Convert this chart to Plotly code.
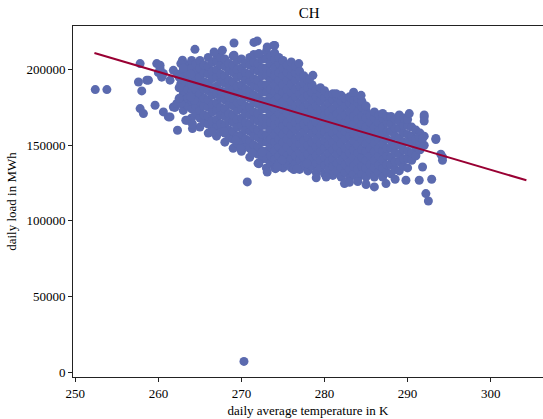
import plotly.graph_objects as go

# ---- data ----
# sparse / outlying points (temperature in K, load in MWh)
edge_temps = [252.4, 253.8, 257.8, 257.6, 258.0, 258.6, 258.8, 257.8, 258.2, 259.6,
              260.6, 261.2, 261.4, 261.8, 262.0, 262.2, 262.7, 262.3, 263.3, 263.5,
              264.1, 264.1, 264.3, 263.9, 259.8, 260.2, 260.4, 260.0, 260.6, 260.2,
              262.9, 261.8, 261.4, 262.3, 262.7, 262.7, 263.9, 264.4, 266.7, 267.7,
              269.1, 271.9, 271.5, 272.1, 273.1, 269.1, 273.9, 274.0, 270.7, 266.5,
              267.9, 269.3, 269.9, 271.3, 272.5, 272.1, 273.1, 274.1, 276.3, 274.9,
              277.9, 274.3, 276.7, 280.2, 282.4, 286.0, 287.4, 289.8, 291.4, 292.9,
              292.2, 292.5, 294.2, 294.0, 293.4, 294.2, 293.4, 292.0, 292.0, 290.2,
              291.4, 291.8, 292.0, 291.8, 284.4, 281.4, 278.6, 278.2, 276.9, 270.3,
              262.5, 262.5, 262.5, 263.0, 284.0, 283.0, 285.0, 288.5, 279.0, 283.5]
edge_loads = [186800, 186800, 204000, 191800, 185900, 193000, 193000, 174200, 170900, 176400,
              172000, 168700, 168700, 175300, 175000, 177500, 177500, 159900, 166500, 166500,
              161000, 164000, 179700, 181900, 204000, 200700, 195000, 198000, 197400, 202900,
              206200, 199500, 193000, 197000, 204000, 190700, 197000, 213400, 211700, 212800,
              217600, 218900, 218000, 210600, 215000, 209500, 216000, 216000, 125700, 158700,
              158700, 153200, 147800, 144900, 145500, 137800, 132300, 134500, 133900, 140000,
              137800, 135600, 134500, 129000, 124600, 122400, 124600, 126800, 126800, 127500,
              118000, 113100, 142200, 144000, 154400, 140000, 153700, 168700, 170000, 170900,
              155500, 154400, 166000, 135600, 183000, 184100, 196200, 194000, 204000, 7000,
              181000, 188000, 195000, 201000, 126000, 125500, 124000, 127500, 128500, 185000]

# dense core of the cloud: per temperature column, loads in thousand MWh
core_temps = [263.0, 263.5, 264.0, 264.5, 265.0, 265.5, 266.0, 266.5, 267.0, 267.5,
              268.0, 268.5, 269.0, 269.5, 270.0, 270.5, 271.0, 271.5, 272.0, 272.5,
              273.0, 273.5, 274.0, 274.5, 275.0, 275.5, 276.0, 276.5, 277.0, 277.5,
              278.0, 278.5, 279.0, 279.5, 280.0, 280.5, 281.0, 281.5, 282.0, 282.5,
              283.0, 283.5, 284.0, 284.5, 285.0, 285.5, 286.0, 286.5, 287.0, 287.5,
              288.0, 288.5, 289.0, 289.5, 290.0, 290.5, 291.0, 291.5, 292.0]
core_loads_k = [
    [173, 178, 184, 189, 195, 200],
    [176, 181, 187, 192, 198, 203],
    [168, 174, 179, 185, 190, 196, 201, 206],
    [171, 176, 182, 187, 193, 198, 204],
    [162, 168, 173, 179, 184, 190, 195, 201, 206],
    [165, 170, 176, 181, 187, 192, 198, 203],
    [158, 164, 169, 175, 180, 186, 191, 197, 202, 208],
    [161, 166, 172, 177, 183, 188, 194, 199, 205],
    [156, 162, 167, 173, 178, 184, 189, 195, 200, 206, 210],
    [159, 164, 170, 175, 181, 186, 192, 197, 203, 208],
    [152, 158, 163, 169, 174, 180, 185, 191, 196, 202, 207],
    [155, 160, 166, 171, 177, 182, 188, 193, 199, 204],
    [148, 154, 159, 165, 170, 176, 181, 187, 192, 198, 203, 209],
    [151, 156, 162, 167, 173, 178, 184, 189, 195, 200, 206],
    [146, 152, 157, 163, 168, 174, 179, 185, 190, 196, 201, 207],
    [149, 154, 160, 165, 171, 176, 182, 187, 193, 198, 204],
    [142, 148, 153, 159, 164, 170, 175, 181, 186, 192, 197, 203, 208],
    [145, 150, 156, 161, 167, 172, 178, 183, 189, 194, 200, 205, 210],
    [138, 144, 149, 155, 160, 166, 171, 177, 182, 188, 193, 199, 204, 210],
    [141, 146, 152, 157, 163, 168, 174, 179, 185, 190, 196, 201, 207],
    [135, 141, 146, 152, 157, 163, 168, 174, 179, 185, 190, 196, 201, 207, 212],
    [138, 143, 149, 154, 160, 165, 171, 176, 182, 187, 193, 198, 204, 209],
    [135, 141, 146, 152, 157, 163, 168, 174, 179, 185, 190, 196, 201, 207, 211],
    [138, 143, 149, 154, 160, 165, 171, 176, 182, 187, 193, 198, 204, 208],
    [135, 141, 146, 152, 157, 163, 168, 174, 179, 185, 190, 196, 201, 206],
    [138, 143, 149, 154, 160, 165, 171, 176, 182, 187, 193, 198, 203],
    [135, 141, 146, 152, 157, 163, 168, 174, 179, 185, 190, 196, 201, 205],
    [138, 143, 149, 154, 160, 165, 171, 176, 182, 187, 193, 198, 202],
    [134, 140, 145, 151, 156, 162, 167, 173, 178, 184, 189, 195, 199],
    [137, 142, 148, 153, 159, 164, 170, 175, 181, 186, 191, 196],
    [133, 139, 144, 150, 155, 161, 166, 172, 177, 183, 188, 193],
    [136, 141, 147, 152, 158, 163, 169, 174, 180, 185, 190],
    [132, 138, 143, 149, 154, 160, 165, 171, 176, 182, 187],
    [135, 140, 146, 151, 157, 162, 168, 173, 179, 184, 188],
    [131, 137, 142, 148, 153, 159, 164, 170, 175, 181, 186],
    [134, 139, 145, 150, 156, 161, 167, 172, 178, 183],
    [130, 136, 141, 147, 152, 158, 163, 169, 174, 180, 184],
    [133, 138, 144, 149, 155, 160, 166, 171, 177, 182],
    [129, 135, 140, 146, 151, 157, 162, 168, 173, 179, 183],
    [132, 137, 143, 148, 154, 159, 165, 170, 176, 181],
    [128, 134, 139, 145, 150, 156, 161, 167, 172, 178, 182],
    [131, 136, 142, 147, 153, 158, 164, 169, 175, 180],
    [128, 134, 139, 145, 150, 156, 161, 167, 172, 178, 181],
    [131, 136, 142, 147, 153, 158, 164, 169, 175, 179],
    [129, 135, 140, 146, 151, 157, 162, 168, 173, 176],
    [132, 137, 143, 148, 154, 159, 165, 170],
    [129, 135, 140, 146, 151, 157, 162, 168, 172],
    [132, 137, 143, 148, 154, 159, 165, 170],
    [129, 135, 140, 146, 151, 157, 162, 168, 171],
    [132, 137, 143, 148, 154, 159, 165, 169],
    [131, 137, 142, 148, 153, 159, 164, 169],
    [134, 139, 145, 150, 156, 161, 167],
    [133, 139, 144, 150, 155, 161, 166, 170],
    [136, 141, 147, 152, 158, 163, 168],
    [135, 141, 146, 152, 157, 163, 167],
    [140, 145, 151, 156, 162],
    [143, 149, 154, 160],
    [147, 152, 158],
    [150, 156],
]

# regression line end points
fit_temps = [252.3, 304.3]
fit_loads = [211000, 126800]

x_ticks = [250, 260, 270, 280, 290, 300]
y_ticks = [0, 50000, 100000, 150000, 200000]

# ---- build figure ----
xs, ys = [], []
for t, col in zip(core_temps, core_loads_k):
    for v in col:
        xs.append(t)
        ys.append(v * 1000)
xs += edge_temps
ys += edge_loads

FONT = "Liberation Serif, Times New Roman, serif"
fig = go.Figure()
fig.add_trace(go.Scatter(x=xs, y=ys, mode="markers",
                         marker=dict(size=9, color="rgb(91,106,175)", line=dict(width=0)),
                         showlegend=False, hoverinfo="skip"))
fig.add_trace(go.Scatter(x=fit_temps, y=fit_loads, mode="lines",
                         line=dict(color="#990033", width=2), showlegend=False,
                         hoverinfo="skip"))

fig.update_layout(
    width=543, height=419,
    margin=dict(l=73, r=0, t=26, b=42),
    paper_bgcolor="white", plot_bgcolor="white",
    font=dict(family=FONT, size=13, color="black"),
    title=dict(text="CH", x=0.5695, xanchor="center", y=0.97, yanchor="middle",
               font=dict(family=FONT, size=15, color="black")),
)
fig.update_xaxes(range=[249.72, 306.3], tickvals=x_ticks, ticktext=[str(v) for v in x_ticks],
                 showgrid=False, zeroline=False, showline=True, linecolor="#222", linewidth=1,
                 mirror=True, ticks="outside", ticklen=4, tickcolor="#222", automargin=False,
                 title=dict(text="daily average temperature in K", standoff=6,
                            font=dict(family=FONT, size=13)))
fig.update_yaxes(range=[-3307, 228840], tickvals=y_ticks, ticktext=[str(v) for v in y_ticks],
                 showgrid=False, zeroline=False, showline=True, linecolor="#222", linewidth=1,
                 ticks="outside", ticklen=4, tickcolor="#222", automargin=False,
                 title=dict(text="daily load in MWh", standoff=6,
                            font=dict(family=FONT, size=13)))

fig.write_html("out.html", config={"displayModeBar": False},
               post_script="document.body.style.margin='0';document.body.style.overflow='hidden';")
